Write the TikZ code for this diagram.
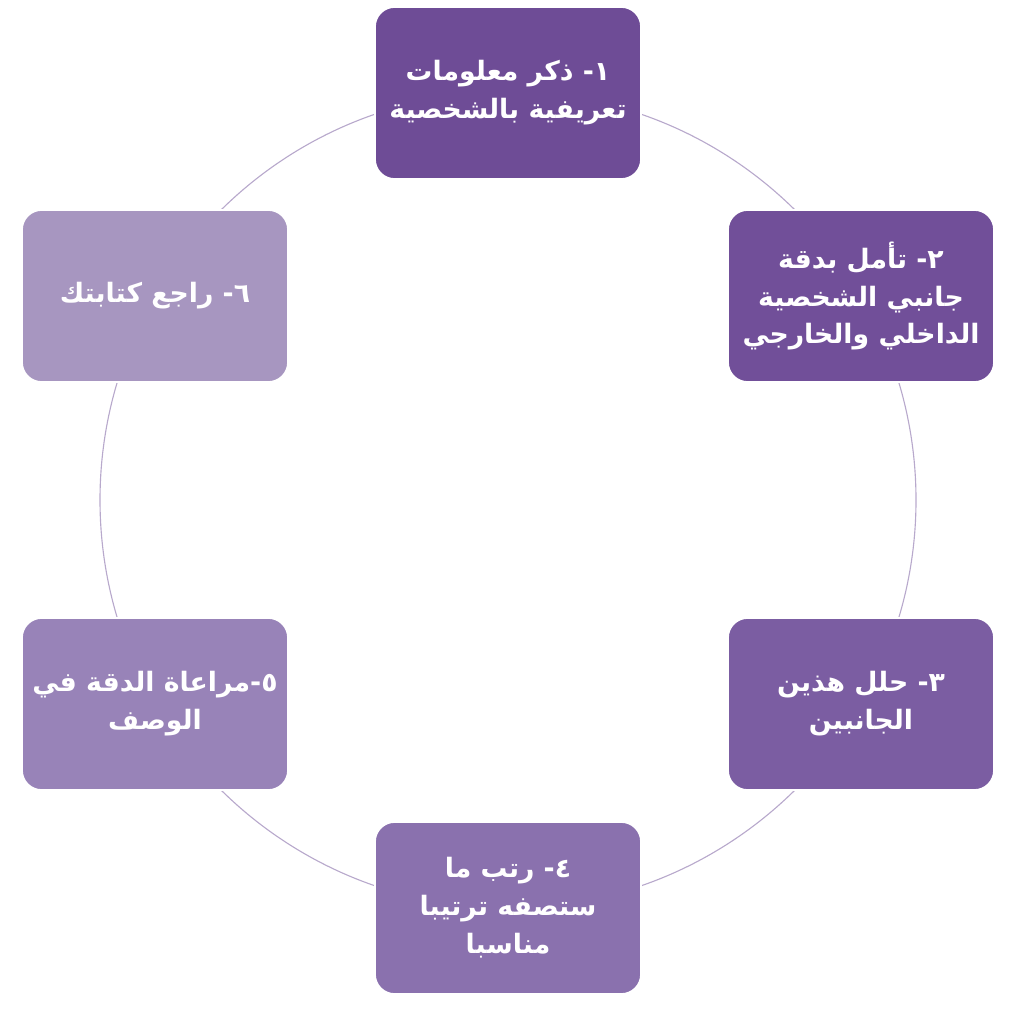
\documentclass[tikz,border=0pt]{standalone}
\usepackage{fontspec}
\newfontfamily\arabicfont[Script=Arabic]{DejaVu Sans}
\TeXXeTstate=1
\definecolor{stepA}{HTML}{6E4C96}
\definecolor{stepB}{HTML}{714F99}
\definecolor{stepC}{HTML}{7B5DA2}
\definecolor{stepD}{HTML}{8A71AE}
\definecolor{stepE}{HTML}{9883B8}
\definecolor{stepF}{HTML}{A796C0}
\definecolor{ring}{HTML}{B8A9CC}
\tikzset{
  stepbox/.style={rectangle,rounded corners=14pt,draw=white,line width=1.2pt,
    minimum width=6.65cm,minimum height=4.3cm,align=center,text=white,
    font=\arabicfont\bfseries\fontsize{19}{27}\selectfont},
}
\begin{document}
\begin{tikzpicture}
\useasboundingbox (0,0) rectangle (25.4,-25.5);

\draw[ring,line width=0.8pt] (12.7,-12.5) circle (10.2);

\begin{scope}[every node/.style={stepbox}]
  \node[fill=stepA] (s1) at (12.7,-2.325)  {\beginR ١- ذكر معلومات\endR\\\beginR تعريفية بالشخصية\endR};
  \node[fill=stepB] (s2) at (21.525,-7.4)  {\beginR ٢- تأمل بدقة\endR\\\beginR جانبي الشخصية\endR\\\beginR الداخلي والخارجي\endR};
  \node[fill=stepC] (s3) at (21.525,-17.6) {\beginR ٣- حلل هذين\endR\\\beginR الجانبين\endR};
  \node[fill=stepD] (s4) at (12.7,-22.7)   {\beginR ٤- رتب ما\endR\\\beginR ستصفه ترتيبا\endR\\\beginR مناسبا\endR};
  \node[fill=stepE] (s5) at (3.875,-17.6)  {\beginR ٥-مراعاة الدقة في\endR\\\beginR الوصف\endR};
  \node[fill=stepF] (s6) at (3.875,-7.4)   {\beginR ٦- راجع كتابتك\endR};
\end{scope}

\end{tikzpicture}
\end{document}
